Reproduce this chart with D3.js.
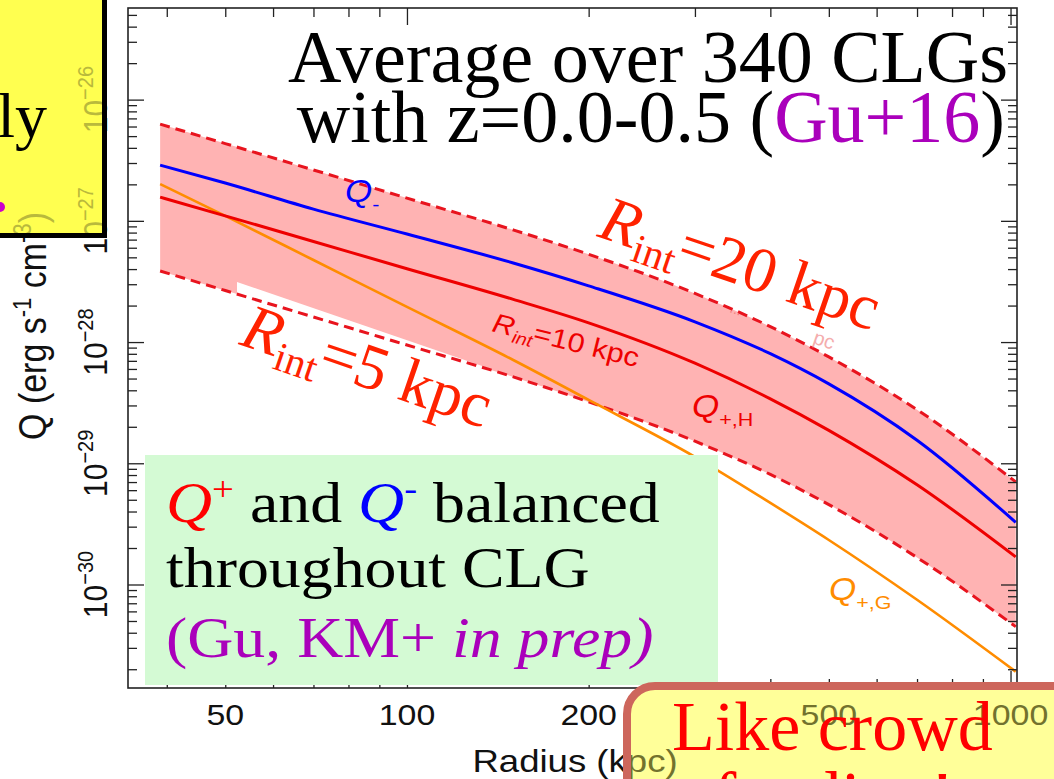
<!DOCTYPE html>
<html><head><meta charset="utf-8">
<script src="https://cdn.jsdelivr.net/npm/d3@7"></script>
<style>html,body{margin:0;padding:0;background:#fff;overflow:hidden}</style>
</head><body>
<svg id="c" width="1054" height="779" xmlns="http://www.w3.org/2000/svg"></svg>
<script>
// ---------- data ----------
const radius   = [39, 50, 70, 100, 150, 200, 300, 400, 500, 700, 1020];           // kpc
const qMinus   = [2.88e-27, 2.05e-27, 1.25e-27, 7.78e-28, 4.49e-28, 2.91e-28, 1.47e-28, 8.02e-29, 4.52e-29, 1.55e-29, 3.26e-30];
const qPlusH10 = [1.57e-27, 1.10e-27, 6.76e-28, 4.03e-28, 2.25e-28, 1.44e-28, 6.69e-29, 3.40e-29, 1.87e-29, 6.65e-30, 1.69e-30];
const qPlusH20 = [6.28e-27, 4.34e-27, 2.63e-27, 1.54e-27, 8.41e-28, 5.30e-28, 2.52e-28, 1.34e-28, 7.54e-29, 2.77e-29, 7.03e-30];
const qPlusH5  = [3.86e-28, 2.66e-28, 1.61e-28, 9.45e-29, 5.16e-29, 3.21e-29, 1.52e-29, 8.09e-30, 4.56e-30, 1.67e-30, 4.49e-31];
const qPlusG   = [2.01e-27, 1.10e-27, 4.75e-28, 1.95e-28, 7.11e-29, 3.33e-29, 1.13e-29, 4.71e-30, 2.33e-30, 7.48e-31, 1.91e-31];
const xTickLabels = [50, 100, 200, 500, 1000];
const xMajorTicks = [100, 1000];
const yMajorTicks = [1e-26, 1e-27, 1e-28, 1e-29, 1e-30];
const yTickExps   = ["\u221226", "\u221227", "\u221228", "\u221229", "\u221230"];

const SERIF = "'Liberation Serif','Times New Roman',serif";
const SANS  = "'Liberation Sans',Arial,Helvetica,sans-serif";
const SX = 1.13; // horizontal stretch of the embedded figure's text

const svg = d3.select("#c");
const defs = svg.append("defs");
defs.append("clipPath").attr("id","clipTL").append("rect").attr("x",0).attr("y",0).attr("width",102).attr("height",233);
defs.append("clipPath").attr("id","clipBR").append("rect").attr("x",631).attr("y",690).attr("width",500).attr("height",200).attr("rx",24);

svg.append("rect").attr("width",1054).attr("height",779).attr("fill","#fff");

const x = d3.scaleLog().domain([34.5, 1025]).range([128, 1017]);
const y = d3.scaleLog().domain([5.7e-26, 1.4e-31]).range([8, 688]);

const pts = arr => radius.map((r,i)=>({r, q: arr[i]}));
const line = d3.line().x(d=>x(d.r)).y(d=>y(d.q)).curve(d3.curveMonotoneX);
const band = d3.area().x((d,i)=>x(radius[i])).y0((d,i)=>y(qPlusH5[i])).y1((d,i)=>y(qPlusH20[i])).curve(d3.curveMonotoneX);

// band
svg.append("path").attr("d", band(radius)).attr("fill","#ffb3b3");
// white backing patch of the R_int=5 label (small sliver over band)
svg.append("polygon").attr("points","237,282 488,368 488,430 237,430").attr("fill","#fff");

// dashed bounds
[qPlusH20, qPlusH5].forEach(a=>{
  svg.append("path").attr("d", line(pts(a))).attr("fill","none")
     .attr("stroke","#e8141e").attr("stroke-width",3).attr("stroke-dasharray","10,6");
});
// solid lines
svg.append("path").attr("d", line(pts(qPlusG))).attr("fill","none").attr("stroke","#ff8c00").attr("stroke-width",2.6);
svg.append("path").attr("d", line(pts(qPlusH10))).attr("fill","none").attr("stroke","#ee0000").attr("stroke-width",3);
svg.append("path").attr("d", line(pts(qMinus))).attr("fill","none").attr("stroke","#0000ff").attr("stroke-width",3);

// ---------- axes (inward ticks) ----------
const isPow = v => Math.abs(Math.log10(v) - Math.round(Math.log10(v))) < 1e-6;
const yMinor = y.ticks().filter(v=>!isPow(v));
const xMinor = x.ticks().filter(v=>!xMajorTicks.includes(v));
function styleAxis(g){ g.select(".domain").remove(); g.selectAll("line").attr("stroke","#222").attr("stroke-width",1.3); g.selectAll("text").remove(); }
svg.append("g").attr("transform","translate(128,0)").call(d3.axisLeft(y).tickValues(yMinor).tickSize(-9)).call(styleAxis);
svg.append("g").attr("transform","translate(128,0)").call(d3.axisLeft(y).tickValues(yMajorTicks).tickSize(-16)).call(styleAxis);
svg.append("g").attr("transform","translate(1017,0)").call(d3.axisRight(y).tickValues(yMinor).tickSize(-9)).call(styleAxis);
svg.append("g").attr("transform","translate(1017,0)").call(d3.axisRight(y).tickValues(yMajorTicks).tickSize(-16)).call(styleAxis);
svg.append("g").attr("transform","translate(0,8)").call(d3.axisTop(x).tickValues(xMinor).tickSize(-9)).call(styleAxis);
svg.append("g").attr("transform","translate(0,8)").call(d3.axisTop(x).tickValues(xMajorTicks).tickSize(-17)).call(styleAxis);
svg.append("g").attr("transform","translate(0,688)").call(d3.axisBottom(x).tickValues(xMinor).tickSize(-9)).call(styleAxis);
svg.append("g").attr("transform","translate(0,688)").call(d3.axisBottom(x).tickValues(xMajorTicks).tickSize(-17)).call(styleAxis);
svg.append("rect").attr("x",128).attr("y",8).attr("width",889).attr("height",680)
   .attr("fill","none").attr("stroke","#222").attr("stroke-width",1.6);

// axis labels (drawn as functions so they can be re-drawn tinted under the overlay boxes)
function xLabels(parent, color){
  xTickLabels.forEach(v=>{
    parent.append("text").attr("transform",`translate(${x(v)},725) scale(${SX},1)`)
      .attr("text-anchor","middle").attr("font-family",SANS).attr("font-size",30).attr("fill",color).text(v);
  });
  parent.append("text").attr("transform",`translate(575,772) scale(1.18,1)`)
    .attr("text-anchor","middle").attr("font-family",SANS).attr("font-size",31).attr("fill",color).text("Radius (kpc)");
}
function yLabels(parent, color){
  yMajorTicks.forEach((v,i)=>{
    const t = parent.append("text").attr("transform",`translate(107,${y(v)}) scale(${SX},1) rotate(-90)`)
      .attr("text-anchor","middle").attr("font-family",SANS).attr("font-size",30).attr("fill",color);
    t.append("tspan").text("10");
    t.append("tspan").attr("font-size",20).attr("dy",-12).text(yTickExps[i]);
  });
  const t = parent.append("text").attr("transform",`translate(46,326) scale(${SX},1) rotate(-90)`)
    .attr("text-anchor","middle").attr("font-family",SANS).attr("font-size",34).attr("fill",color);
  t.append("tspan").text("Q (erg s");
  t.append("tspan").attr("font-size",22).attr("dy",-13).text("-1");
  t.append("tspan").attr("dy",13).text(" cm");
  t.append("tspan").attr("font-size",22).attr("dy",-13).text("-3");
  t.append("tspan").attr("dy",13).text(")");
}
xLabels(svg, "#111");
yLabels(svg, "#111");

// small in-plot labels
function qLabel(px, py, color, sub){
  const t = svg.append("text").attr("transform",`translate(${px},${py}) scale(${SX},1)`)
    .attr("font-family",SANS).attr("font-size",31).attr("fill",color);
  t.append("tspan").attr("font-style","italic").text("Q");
  t.append("tspan").attr("font-size",19).attr("dy",9).text(sub);
}
qLabel(345, 202, "#0000ff", "-");
qLabel(692, 417, "#ee0000", "+,H");
qLabel(829, 600, "#ff8c00", "+,G");
{
  const t = svg.append("text").attr("transform",`translate(491,331) rotate(14) scale(${SX},1)`)
    .attr("font-family",SANS).attr("font-size",27).attr("fill","#ee0000");
  t.append("tspan").attr("font-style","italic").text("R");
  t.append("tspan").attr("font-style","italic").attr("font-size",17).attr("dy",6).text("int");
  t.append("tspan").attr("dy",-6).text("=10 kpc");
}
// remnants of the covered original small label
svg.append("text").attr("transform","translate(729,312) rotate(19)").attr("font-family",SANS)
  .attr("font-size",14).attr("fill","#ee6666").attr("opacity",0.7).text("...");
svg.append("text").attr("transform","translate(812,343) rotate(19)").attr("font-family",SANS)
  .attr("font-size",20).attr("fill","#ee7777").attr("opacity",0.6).text("pc");

// big R_int labels
function bigR(px, py, val){
  const t = svg.append("text").attr("transform",`translate(${px},${py}) rotate(19)`)
    .attr("font-family",SERIF).attr("font-size",64).attr("fill","#ff2200");
  t.append("tspan").attr("font-style","italic").text("R");
  t.append("tspan").attr("font-size",41).attr("dy",12).text("int");
  t.append("tspan").attr("dy",-12).text("="+val+" kpc");
}
bigR(596, 236, "20");
bigR(238, 344, "5");

// title
svg.append("text").attr("x",1008).attr("y",82).attr("text-anchor","end")
  .attr("font-family",SERIF).attr("font-size",74).attr("fill","#000").text("Average over 340 CLGs");
{
  const t = svg.append("text").attr("x",1005).attr("y",142).attr("text-anchor","end")
    .attr("font-family",SERIF).attr("font-size",74).attr("fill","#000");
  t.append("tspan").text("with z=0.0-0.5 (");
  t.append("tspan").attr("fill","#aa00bb").text("Gu+16");
  t.append("tspan").text(")");
}

// green box
svg.append("rect").attr("x",145).attr("y",455).attr("width",573).attr("height",230).attr("fill","#d4fad4");
{
  const g = svg.append("g").attr("font-family",SERIF).attr("font-size",56);
  const l1 = g.append("text").attr("transform","translate(166,522) scale(1.14,1)").attr("fill","#000");
  l1.append("tspan").attr("fill","#ff0000").attr("font-style","italic").text("Q");
  l1.append("tspan").attr("fill","#ff0000").attr("font-size",34).attr("dy",-22).text("+");
  l1.append("tspan").attr("dy",22).text(" and ");
  l1.append("tspan").attr("fill","#0000ff").attr("font-style","italic").text("Q");
  l1.append("tspan").attr("fill","#0000ff").attr("font-size",34).attr("dy",-22).text("-");
  l1.append("tspan").attr("dy",22).text(" balanced");
  g.append("text").attr("transform","translate(166,587) scale(1.14,1)").attr("fill","#000").text("throughout CLG");
  const l3 = g.append("text").attr("transform","translate(166,657) scale(1.14,1)").attr("fill","#aa00bb");
  l3.append("tspan").text("(Gu, KM+ ");
  l3.append("tspan").attr("font-style","italic").text("in prep)");
}

// top-left yellow box, with the axis labels showing through
svg.append("rect").attr("x",-10).attr("y",-10).attr("width",114.5).attr("height",245.5)
  .attr("fill","#ffff50").attr("stroke","none");
yLabels(svg.append("g").attr("clip-path","url(#clipTL)"), "#b9b93c");
svg.append("rect").attr("x",-10).attr("y",-10).attr("width",114.5).attr("height",245.5)
  .attr("fill","none").attr("stroke","#000").attr("stroke-width",5);
svg.append("text").attr("x",47).attr("y",137).attr("text-anchor","end")
  .attr("font-family",SERIF).attr("font-size",64).attr("fill","#000").text("ly");
svg.append("circle").attr("cx",0).attr("cy",207).attr("r",5).attr("fill","#cc00cc");

// bottom-right callout, with the axis labels showing through
svg.append("rect").attr("x",627).attr("y",686).attr("width",520).attr("height",220).attr("rx",28)
  .attr("fill","#ffff99");
xLabels(svg.append("g").attr("clip-path","url(#clipBR)"), "#72722e");
svg.append("rect").attr("x",627).attr("y",686).attr("width",520).attr("height",220).attr("rx",28)
  .attr("fill","none").attr("stroke","#cd665c").attr("stroke-width",8);
svg.append("text").attr("x",672).attr("y",750).attr("font-family",SERIF).attr("font-size",70)
  .attr("fill","#ff0000").text("Like crowd");
svg.append("text").attr("x",713).attr("y",820).attr("font-family",SERIF).attr("font-size",70)
  .attr("fill","#ff0000").text("funding!");
</script>
</body></html>
